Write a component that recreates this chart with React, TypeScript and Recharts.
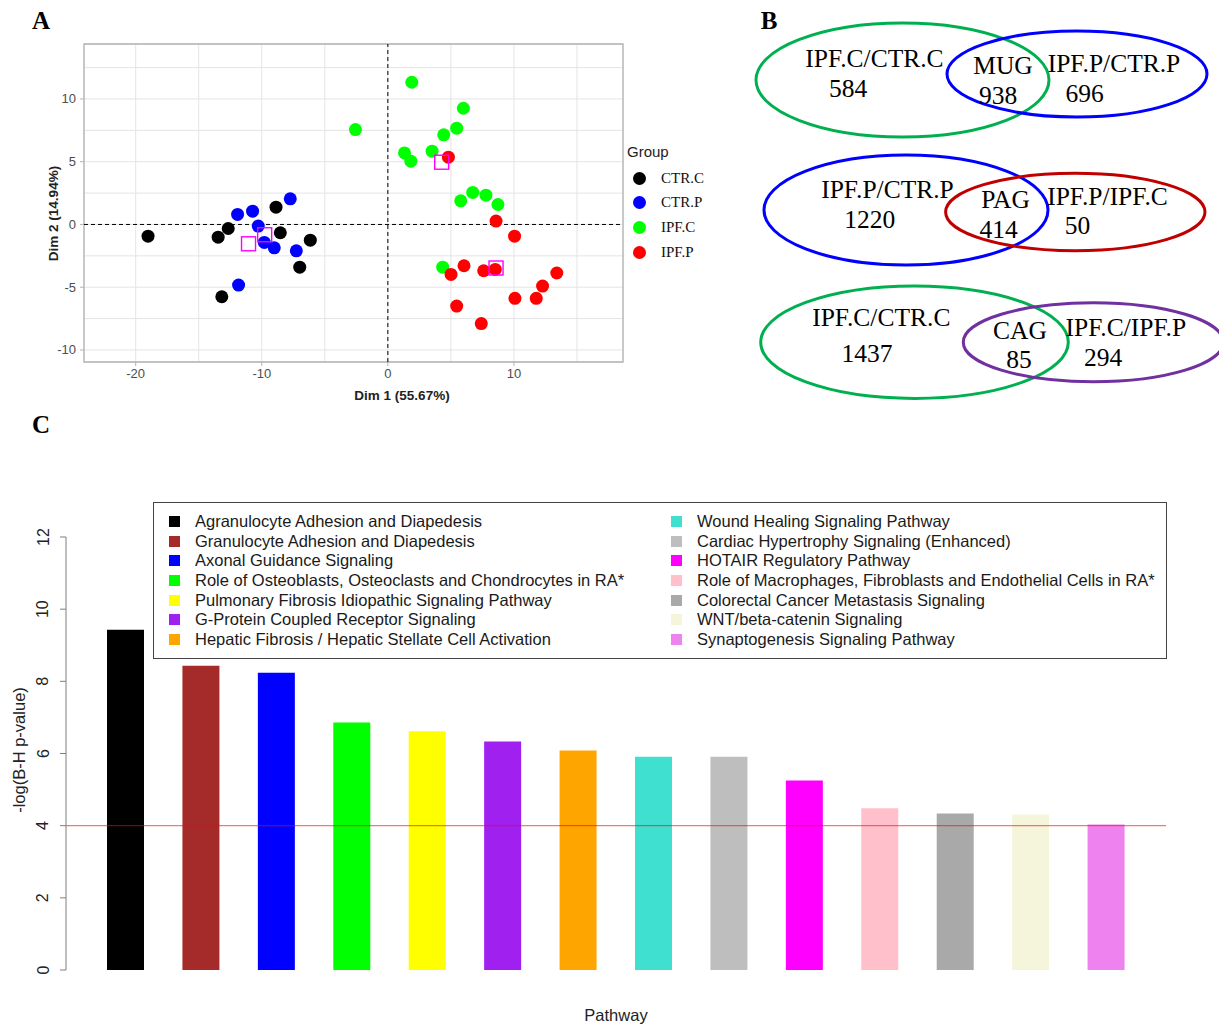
import React from 'react';
import {
  ScatterChart, Scatter, XAxis, YAxis, CartesianGrid, ReferenceLine, ReferenceArea,
  BarChart, Bar, Cell,
} from 'recharts';

// ---- Panel A: PCA individuals ----
const groupNames = ['CTR.C', 'CTR.P', 'IPF.C', 'IPF.P'];
const groupColors = ['#000000', '#0000ff', '#00ff00', '#ff0000'];

const ctrC = [
  { x: -19.02, y: -0.93 }, { x: -13.46, y: -1.01 }, { x: -12.66, y: -0.32 }, { x: -8.87, y: 1.38 },
  { x: -8.53, y: -0.66 }, { x: -6.15, y: -1.25 }, { x: -6.99, y: -3.4 }, { x: -13.17, y: -5.76 },
];
const ctrP = [
  { x: -11.92, y: 0.8 }, { x: -10.73, y: 1.06 }, { x: -7.74, y: 2.04 }, { x: -10.28, y: -0.13 },
  { x: -9.8, y: -1.43 }, { x: -9.01, y: -1.86 }, { x: -7.26, y: -2.1 }, { x: -11.84, y: -4.83 },
];
const ipfC = [
  { x: -2.57, y: 7.56 }, { x: 1.32, y: 5.7 }, { x: 1.9, y: 11.33 }, { x: 5.99, y: 9.26 },
  { x: 5.46, y: 7.67 }, { x: 4.43, y: 7.14 }, { x: 3.51, y: 5.84 }, { x: 1.82, y: 5.04 },
  { x: 6.73, y: 2.55 }, { x: 7.78, y: 2.33 }, { x: 5.78, y: 1.88 }, { x: 8.73, y: 1.59 },
  { x: 4.35, y: -3.4 },
];
const ipfP = [
  { x: 4.8, y: 5.36 }, { x: 8.58, y: 0.27 }, { x: 10.05, y: -0.93 }, { x: 6.04, y: -3.29 },
  { x: 5.01, y: -3.98 }, { x: 7.6, y: -3.69 }, { x: 8.52, y: -3.58 }, { x: 13.4, y: -3.87 },
  { x: 12.27, y: -4.91 }, { x: 10.08, y: -5.89 }, { x: 11.77, y: -5.89 }, { x: 5.46, y: -6.5 },
  { x: 7.41, y: -7.9 },
];
const groupCentres = [
  { x: -11.05, y: -1.54 }, { x: -9.77, y: -0.82 }, { x: 4.27, y: 4.96 }, { x: 8.58, y: -3.47 },
];
const groupPoints = [ctrC, ctrP, ipfC, ipfP];

const dim1Ticks = [-20, -15, -10, -5, 0, 5, 10, 15];
const dim2Ticks = [-10, -7.5, -5, -2.5, 0, 2.5, 5, 7.5, 10, 12.5];

// ---- Panel B: Venn counts ----
const vennLeftNames = ['IPF.C/CTR.C', 'IPF.P/CTR.P', 'IPF.C/CTR.C'];
const vennLeftCounts = [584, 1220, 1437];
const vennSharedNames = ['MUG', 'PAG', 'CAG'];
const vennSharedCounts = [938, 414, 85];
const vennRightNames = ['IPF.P/CTR.P', 'IPF.P/IPF.C', 'IPF.C/IPF.P'];
const vennRightCounts = [696, 50, 294];
const vennLeftColors = ['#00b050', '#0000ff', '#00b050'];
const vennRightColors = ['#0000ff', '#c00000', '#7030a0'];

// ---- Panel C: pathways ----
const pathways = [
  'Agranulocyte Adhesion and Diapedesis',
  'Granulocyte Adhesion and Diapedesis',
  'Axonal Guidance Signaling',
  'Role of Osteoblasts, Osteoclasts and Chondrocytes in RA*',
  'Pulmonary Fibrosis Idiopathic Signaling Pathway',
  'G-Protein Coupled Receptor Signaling',
  'Hepatic Fibrosis / Hepatic Stellate Cell Activation',
  'Wound Healing Signaling Pathway',
  'Cardiac Hypertrophy Signaling (Enhanced)',
  'HOTAIR Regulatory Pathway',
  'Role of Macrophages, Fibroblasts and Endothelial Cells in RA*',
  'Colorectal Cancer Metastasis Signaling',
  'WNT/beta-catenin Signaling',
  'Synaptogenesis Signaling Pathway',
];
const pathwayScores = [9.43, 8.43, 8.24, 6.86, 6.62, 6.33, 6.08, 5.91, 5.91, 5.25, 4.48, 4.34, 4.31, 4.03];
const pathwayColors = [
  '#000000', '#a52a2a', '#0000ff', '#00ff00', '#ffff00', '#a020f0', '#ffa500',
  '#40e0d0', '#bebebe', '#ff00ff', '#ffc0cb', '#a9a9a9', '#f5f5dc', '#ee82ee',
];
const scoreTicks = [0, 2, 4, 6, 8, 10, 12];
const cutoff = 4;

const SANS = '"Liberation Sans", Arial, sans-serif';
const SERIF = '"Liberation Serif", "Times New Roman", serif';

const Dim1Tick = (props: any) => {
  const { x, y, payload } = props;
  if (payload.value % 10 !== 0) return null;
  return (
    <g>
      <line x1={x} x2={x} y1={y - 4} y2={y} stroke="#b3b3b3" />
      <text x={x} y={y + 12} textAnchor="middle" fill="#4d4d4d" fontSize={13} fontFamily={SANS}>{payload.value}</text>
    </g>
  );
};

const Dim2Tick = (props: any) => {
  const { x, y, payload } = props;
  if (payload.value % 5 !== 0) return null;
  return (
    <g>
      <line x1={x} x2={x + 4} y1={y} y2={y} stroke="#b3b3b3" />
      <text x={x - 4} y={y + 4.5} textAnchor="end" fill="#4d4d4d" fontSize={13} fontFamily={SANS}>{payload.value}</text>
    </g>
  );
};

const ScoreTick = (props: any) => {
  const { x, y, payload } = props;
  return (
    <g>
      <line x1={x} x2={x + 6} y1={y} y2={y} stroke="#7f7f7f" />
      <text x={x - 17} y={y} transform={`rotate(-90 ${x - 17} ${y})`} textAnchor="middle"
        dominantBaseline="central" fill="#222" fontSize={16} fontFamily={SANS}>{payload.value}</text>
    </g>
  );
};

const dot = (color: string) => (p: any) => <circle cx={p.cx} cy={p.cy} r={6.5} fill={color} />;
const square = (p: any) => (
  <rect x={p.cx - 7} y={p.cy - 7} width={14} height={14} fill="none" stroke="#ff00ff" strokeWidth={1.4} />
);

const vennLayout = [
  { l: [162.5, 80, 146.5, 57], r: [337, 74, 130, 43], ln: [134.5, 66.7], lc: [108, 96.7], sn: [263, 74], sc: [258, 104], rn: [374, 71.7], rc: [344.5, 101.7] },
  { l: [166, 210, 142, 55], r: [335.3, 212, 129.7, 38.7], ln: [147.5, 198.3], lc: [129.7, 227.7], sn: [265.5, 207.7], sc: [258.5, 237.7], rn: [367.5, 204.5], rc: [337.5, 234] },
  { l: [174.5, 342.2, 153.8, 56.2], r: [353.3, 342.2, 130, 39.5], ln: [141.3, 325.7], lc: [127, 361.7], sn: [280, 339], sc: [279, 368.3], rn: [385.8, 336], rc: [363, 365.5] },
];

const App: React.FC = () => {
  const bars = pathways.map((name, i) => ({ name, score: pathwayScores[i] }));
  return (
    <div style={{ position: 'absolute', left: 0, top: 0, width: 1219, height: 1025, background: '#fff', fontFamily: SANS }}>
      {/* Panel A */}
      <div style={{ position: 'absolute', left: 0, top: 0 }}>
        <ScatterChart width={700} height={410} margin={{ top: 44, right: 77, bottom: 18, left: 44 }}>
          <CartesianGrid stroke="#e4e4e4" />
          <XAxis type="number" dataKey="x" domain={[-24.1, 18.65]} ticks={dim1Ticks} allowDataOverflow
            height={30} tickSize={4} tickMargin={0} axisLine={false} tickLine={false} tick={<Dim1Tick />} interval={0} />
          <YAxis type="number" dataKey="y" domain={[-10.96, 14.38]} ticks={dim2Ticks} allowDataOverflow
            width={40} tickSize={4} tickMargin={0} axisLine={false} tickLine={false} tick={<Dim2Tick />} interval={0} />
          <ReferenceArea x1={-24.1} x2={18.65} y1={-10.96} y2={14.38} fill="none" stroke="#b3b3b3" strokeWidth={1.3} fillOpacity={0} />
          <ReferenceLine x={0} stroke="#000" strokeDasharray="4 3" />
          <ReferenceLine y={0} stroke="#000" strokeDasharray="4 3" />
          {groupPoints.map((pts, i) => (
            <Scatter key={groupNames[i]} name={groupNames[i]} data={pts} fill={groupColors[i]}
              shape={dot(groupColors[i])} isAnimationActive={false} />
          ))}
          <Scatter name="centre" data={groupCentres} shape={square} isAnimationActive={false} />
        </ScatterChart>
      </div>
      <div style={{ position: 'absolute', left: 627, top: 143, fontSize: 15, color: '#222' }}>Group</div>
      {groupNames.map((g, i) => (
        <div key={g} style={{ position: 'absolute', left: 633, top: 168 + i * 24.7, height: 20, display: 'flex', alignItems: 'center' }}>
          <span style={{ width: 13, height: 13, borderRadius: '50%', background: groupColors[i], display: 'inline-block' }} />
          <span style={{ marginLeft: 15, fontFamily: SERIF, fontSize: 15, color: '#111' }}>{g}</span>
        </div>
      ))}

      {/* Panel C */}
      <div style={{ position: 'absolute', left: 0, top: 480 }}>
        <BarChart width={1219} height={545} data={bars} margin={{ top: 57, right: 53, bottom: 55, left: 20 }}>
          <XAxis dataKey="name" hide padding={{ left: 22, right: 22 }} />
          <YAxis domain={[0, 12]} ticks={scoreTicks} width={46} tickSize={6} tickMargin={0}
            axisLine={{ stroke: '#7f7f7f' }} tickLine={false} tick={<ScoreTick />} interval={0} />
          <Bar dataKey="score" barSize={37} isAnimationActive={false}>
            {bars.map((b, i) => <Cell key={b.name} fill={pathwayColors[i]} />)}
          </Bar>
          <ReferenceLine y={cutoff} stroke="#ff0000" strokeOpacity={0.55} strokeWidth={1.3} />
        </BarChart>
      </div>
      <div style={{ position: 'absolute', left: 153, top: 502, width: 1012, height: 155, border: '1px solid #444', background: '#fff' }} />
      {pathways.map((p, i) => {
        const col = i < 7 ? 0 : 1;
        const row = i % 7;
        return (
          <div key={p} style={{ position: 'absolute', left: col ? 671 : 169, top: 511.7 + row * 19.6, height: 20, display: 'flex', alignItems: 'center', whiteSpace: 'nowrap' }}>
            <span style={{ width: 11, height: 11, background: pathwayColors[i], display: 'inline-block' }} />
            <span style={{ marginLeft: 15, fontSize: 16.5, color: '#1a1a1a' }}>{p}</span>
          </div>
        );
      })}

      {/* Text overlay + Venn diagrams */}
      <svg width={1219} height={1025} style={{ position: 'absolute', left: 0, top: 0, pointerEvents: 'none' }}>
        <text x={41} y={29} textAnchor="middle" fontFamily={SERIF} fontWeight="bold" fontSize={25}>A</text>
        <text x={769} y={29} textAnchor="middle" fontFamily={SERIF} fontWeight="bold" fontSize={25}>B</text>
        <text x={41} y={433} textAnchor="middle" fontFamily={SERIF} fontWeight="bold" fontSize={25}>C</text>
        <text x={402} y={400} textAnchor="middle" fontFamily={SANS} fontWeight="bold" fontSize={13.5} fill="#222">Dim 1 (55.67%)</text>
        <text x={53} y={213.5} transform="rotate(-90 53 213.5)" textAnchor="middle" dominantBaseline="central"
          fontFamily={SANS} fontWeight="bold" fontSize={13.5} fill="#222">Dim 2 (14.94%)</text>
        <text x={19} y={750} transform="rotate(-90 19 750)" textAnchor="middle" dominantBaseline="central"
          fontFamily={SANS} fontSize={16.5} fill="#222">-log(B-H p-value)</text>
        <text x={616} y={1021} textAnchor="middle" fontFamily={SANS} fontSize={16.5} fill="#222">Pathway</text>
        <g transform="translate(740 0)">
          {vennLayout.map((v, i) => (
            <g key={i} fontFamily={SERIF} fontSize={25.5} textAnchor="middle" fill="#000">
              <ellipse cx={v.l[0]} cy={v.l[1]} rx={v.l[2]} ry={v.l[3]} fill="none" stroke={vennLeftColors[i]} strokeWidth={3} />
              <ellipse cx={v.r[0]} cy={v.r[1]} rx={v.r[2]} ry={v.r[3]} fill="none" stroke={vennRightColors[i]} strokeWidth={3} />
              <text x={v.ln[0]} y={v.ln[1]}>{vennLeftNames[i]}</text>
              <text x={v.lc[0]} y={v.lc[1]}>{vennLeftCounts[i]}</text>
              <text x={v.sn[0]} y={v.sn[1]}>{vennSharedNames[i]}</text>
              <text x={v.sc[0]} y={v.sc[1]}>{vennSharedCounts[i]}</text>
              <text x={v.rn[0]} y={v.rn[1]}>{vennRightNames[i]}</text>
              <text x={v.rc[0]} y={v.rc[1]}>{vennRightCounts[i]}</text>
            </g>
          ))}
        </g>
      </svg>
    </div>
  );
};

export default App;
